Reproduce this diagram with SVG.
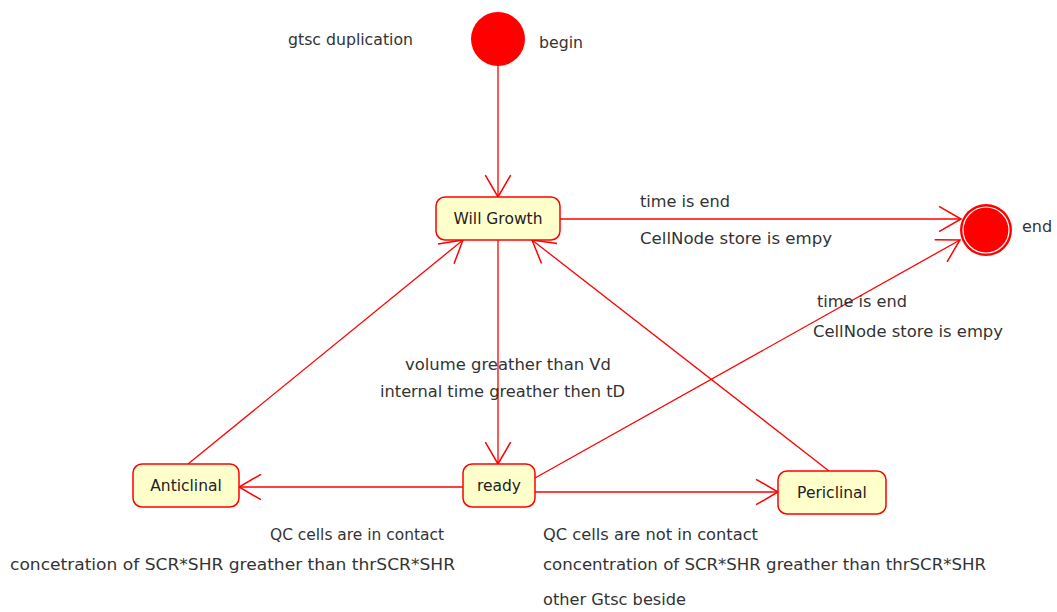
<svg xmlns="http://www.w3.org/2000/svg" width="1057" height="612" viewBox="0 0 1057 612">
<style>
text{font-family:"DejaVu Sans","Liberation Sans",sans-serif;font-size:16px;fill:#333}
.n{fill:#ffffcc;stroke:#ff0000;stroke-width:1.5}
.c{fill:none;stroke:#ff0000;stroke-width:1.3}
.t{font-size:15.5px;fill:#222}
</style>
<defs>
<marker id="a" markerUnits="userSpaceOnUse" markerWidth="30" markerHeight="30" refX="0" refY="0" viewBox="-22 -13 24 26" orient="auto" overflow="visible">
<path d="M-19,-11 L0,0 L-19,11" fill="none" stroke="#ff0000" stroke-width="1.3"/>
</marker>
</defs>
<rect width="1057" height="612" fill="#ffffff"/>
<g id="connectors">
<line class="c" x1="498" y1="66" x2="498" y2="197" marker-end="url(#a)"/>
<line class="c" x1="560" y1="219" x2="961" y2="219" marker-end="url(#a)"/>
<line class="c" x1="535" y1="478" x2="960" y2="240" marker-end="url(#a)"/>
<line class="c" x1="498" y1="240" x2="498" y2="464" marker-end="url(#a)"/>
<line class="c" x1="188" y1="464" x2="463" y2="240" marker-end="url(#a)"/>
<line class="c" x1="829" y1="471" x2="532" y2="240" marker-end="url(#a)"/>
<line class="c" x1="463" y1="487" x2="239" y2="487" marker-end="url(#a)"/>
<line class="c" x1="535" y1="492" x2="778" y2="492" marker-end="url(#a)"/>
</g>
<g id="labels">
<text x="288" y="45" textLength="125" lengthAdjust="spacingAndGlyphs">gtsc duplication</text>
<text x="640" y="207" textLength="90" lengthAdjust="spacingAndGlyphs">time is end</text>
<text x="640" y="244" textLength="192" lengthAdjust="spacingAndGlyphs">CellNode store is empy</text>
<text x="817" y="307" textLength="90" lengthAdjust="spacingAndGlyphs">time is end</text>
<text x="813" y="337" textLength="190" lengthAdjust="spacingAndGlyphs">CellNode store is empy</text>
<text x="405" y="370" textLength="206" lengthAdjust="spacingAndGlyphs">volume greather than Vd</text>
<text x="380" y="397" textLength="245" lengthAdjust="spacingAndGlyphs">internal time greather then tD</text>
<text x="270" y="540" textLength="174" lengthAdjust="spacingAndGlyphs">QC cells are in contact</text>
<text x="10" y="570" textLength="445" lengthAdjust="spacingAndGlyphs">concetration of SCR*SHR greather than thrSCR*SHR</text>
<text x="543" y="540" textLength="215" lengthAdjust="spacingAndGlyphs">QC cells are not in contact</text>
<text x="543" y="570" textLength="443" lengthAdjust="spacingAndGlyphs">concentration of SCR*SHR greather than thrSCR*SHR</text>
<text x="543" y="605" textLength="143" lengthAdjust="spacingAndGlyphs">other Gtsc beside</text>
</g>
<g id="begin">
<circle cx="498" cy="39" r="27" fill="#ff0000"/>
<text x="539" y="48" textLength="44" lengthAdjust="spacingAndGlyphs">begin</text>
</g>
<g id="end">
<circle cx="986" cy="230" r="26" fill="#ff0000"/>
<circle cx="986" cy="230" r="23" fill="none" stroke="#ffffff" stroke-width="1.2"/>
<text x="1022" y="232">end</text>
</g>
<g id="willgrowth">
<rect class="n" x="436" y="197" width="124" height="43" rx="9"/>
<text class="t" x="498" y="224" text-anchor="middle">Will Growth</text>
</g>
<g id="anticlinal">
<rect class="n" x="133" y="464" width="106" height="43" rx="9"/>
<text class="t" x="186" y="491" text-anchor="middle">Anticlinal</text>
</g>
<g id="ready">
<rect class="n" x="463" y="464" width="72" height="43" rx="9"/>
<text class="t" x="499" y="491" text-anchor="middle">ready</text>
</g>
<g id="periclinal">
<rect class="n" x="778" y="471" width="108" height="43" rx="9"/>
<text class="t" x="832" y="498" text-anchor="middle">Periclinal</text>
</g>
</svg>
